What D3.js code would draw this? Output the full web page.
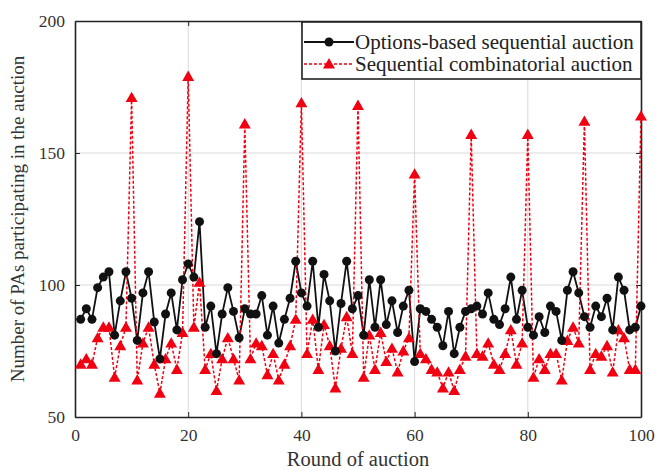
<!DOCTYPE html>
<html>
<head>
<meta charset="utf-8">
<script src="https://cdn.jsdelivr.net/npm/d3@7"></script>
<style>
  body { margin: 0; background: #fff; }
  svg text { font-family: "Liberation Serif", "Times New Roman", serif; }
</style>
</head>
<body>
<div id="chart"></div>
<script>
// rounds 1..100
var rounds = d3.range(1, 101);

// Options-based sequential auction
var optionsBased = [
    87, 91, 87, 99, 103, 105, 81, 94, 105, 95,
    79, 97, 105, 86, 72, 89, 97, 83, 102, 108,
    103, 124, 84, 92, 74, 89, 99, 90, 80, 91,
    89, 89, 96, 81, 92, 78, 87, 95, 109, 97,
    92, 109, 84, 104, 94, 75, 93, 109, 91, 96,
    81, 102, 84, 102, 85, 94, 82, 92, 98, 71,
    91, 90, 87, 84, 77, 90, 74, 84, 90, 91,
    92, 89, 97, 87, 85, 91, 103, 87, 98, 84,
    81, 88, 82, 92, 90, 79, 98, 105, 97, 88,
    84, 92, 88, 95, 83, 103, 98, 83, 84, 92
];

// Sequential combinatorial auction
var combinatorial = [
    70, 72, 70, 80, 84, 84, 65, 77, 84, 171,
    64, 78, 84, 70, 59, 72, 78, 68, 82, 179,
    84, 101, 68, 74, 60, 72, 80, 72, 64, 161,
    72, 78, 77, 66, 74, 64, 70, 77, 87, 169,
    74, 87, 68, 85, 77, 61, 76, 88, 74, 168,
    65, 81, 68, 82, 71, 76, 67, 75, 80, 142,
    74, 72, 68, 67, 61, 67, 60, 68, 73, 157,
    74, 73, 78, 70, 68, 74, 83, 70, 78, 157,
    65, 72, 68, 74, 74, 64, 79, 84, 78, 162,
    68, 74, 73, 77, 67, 83, 80, 68, 68, 164
];

var xTicks = [0, 20, 40, 60, 80, 100];
var yTicks = [50, 100, 150, 200];
var seriesNames = ["Options-based sequential auction", "Sequential combinatorial auction"];

var W = 657, H = 470;
var margin = {top: 21, right: 16, bottom: 53, left: 75};
var width = W - margin.left - margin.right,
    height = H - margin.top - margin.bottom;

var svg = d3.select("#chart").append("svg")
    .attr("width", W)
    .attr("height", H);

var g = svg.append("g")
    .attr("transform", "translate(" + margin.left + "," + margin.top + ")");

var x = d3.scaleLinear().domain([0, 100]).range([0, width]);
var y = d3.scaleLinear().domain([50, 200]).range([height, 0]);

// grid
g.append("g").selectAll("line.gx")
    .data(xTicks.slice(1, -1)).enter().append("line")
    .attr("x1", d => x(d)).attr("x2", d => x(d))
    .attr("y1", 0).attr("y2", height)
    .attr("stroke", "#d9d9d9").attr("stroke-width", 1);
g.append("g").selectAll("line.gy")
    .data(yTicks.slice(1, -1)).enter().append("line")
    .attr("y1", d => y(d)).attr("y2", d => y(d))
    .attr("x1", 0).attr("x2", width)
    .attr("stroke", "#d9d9d9").attr("stroke-width", 1);

// axes (MATLAB style: inward ticks, box)
var fontSize = "17.5px";
var xAxis = g.append("g")
    .attr("transform", "translate(0," + height + ")")
    .call(d3.axisBottom(x).tickValues(xTicks).tickSizeInner(-5).tickSizeOuter(0).tickPadding(12));
var yAxis = g.append("g")
    .call(d3.axisLeft(y).tickValues(yTicks).tickSizeInner(-5).tickSizeOuter(0).tickPadding(10));
var xTop = g.append("g")
    .call(d3.axisTop(x).tickValues(xTicks).tickSizeInner(-5).tickSizeOuter(0).tickFormat(""));
var yRight = g.append("g")
    .attr("transform", "translate(" + width + ",0)")
    .call(d3.axisRight(y).tickValues(yTicks).tickSizeInner(-5).tickSizeOuter(0).tickFormat(""));

[xAxis, yAxis, xTop, yRight].forEach(function (a) {
    a.select(".domain").attr("stroke", "#222").attr("stroke-width", 1.6);
    a.selectAll(".tick line").attr("stroke", "#222");
    a.selectAll("text").style("font-size", fontSize).attr("fill", "#333")
        .style("font-family", "'Liberation Serif', serif");
});

// black series
var lineB = d3.line().x((d, i) => x(rounds[i])).y(d => y(d));
g.append("path")
    .datum(optionsBased)
    .attr("fill", "none")
    .attr("stroke", "#111")
    .attr("stroke-width", 1.8)
    .attr("d", lineB);

// red series
g.append("path")
    .datum(combinatorial)
    .attr("fill", "none")
    .attr("stroke", "#f00010")
    .attr("stroke-width", 1.5)
    .attr("stroke-dasharray", "3,2")
    .attr("d", lineB);

var tri = d3.symbol().type(d3.symbolTriangle).size(62);

g.append("g").selectAll("path")
    .data(combinatorial).enter().append("path")
    .attr("d", tri)
    .attr("transform", (d, i) => "translate(" + x(rounds[i]) + "," + (y(d) + 1) + ")")
    .attr("fill", "#f00010");

g.append("g").selectAll("circle")
    .data(optionsBased).enter().append("circle")
    .attr("cx", (d, i) => x(rounds[i]))
    .attr("cy", d => y(d))
    .attr("r", 4.5)
    .attr("fill", "#111");

// legend
var lg = g.append("g").attr("transform", "translate(" + (302 - margin.left) + ",1)");
lg.append("rect")
    .attr("width", 339).attr("height", 57)
    .attr("fill", "#fff").attr("stroke", "#222").attr("stroke-width", 1.6);

var rowY = [20, 42];
lg.append("line").attr("x1", 2).attr("x2", 52).attr("y1", rowY[0]).attr("y2", rowY[0])
    .attr("stroke", "#111").attr("stroke-width", 1.8);
lg.append("circle").attr("cx", 27).attr("cy", rowY[0]).attr("r", 4.5).attr("fill", "#111");
lg.append("line").attr("x1", 2).attr("x2", 52).attr("y1", rowY[1]).attr("y2", rowY[1])
    .attr("stroke", "#f00010").attr("stroke-width", 1.5).attr("stroke-dasharray", "3,2");
lg.append("path").attr("d", tri)
    .attr("transform", "translate(27," + (rowY[1] + 1) + ")").attr("fill", "#f00010");

lg.selectAll("text.lab")
    .data(seriesNames).enter().append("text")
    .attr("x", 53)
    .attr("y", (d, i) => rowY[i])
    .attr("dy", "0.35em")
    .style("font-size", "21px")
    .attr("fill", "#222")
    .text(d => d);

// axis titles
svg.append("text")
    .attr("x", margin.left + width / 2)
    .attr("y", 466)
    .attr("text-anchor", "middle")
    .style("font-size", "20.5px")
    .attr("fill", "#333")
    .text("Round of auction");

svg.append("text")
    .attr("transform", "translate(24," + (margin.top + height / 2) + ") rotate(-90)")
    .attr("text-anchor", "middle")
    .style("font-size", "19px")
    .attr("fill", "#333")
    .text("Number of PAs participating in the auction");
</script>
</body>
</html>
